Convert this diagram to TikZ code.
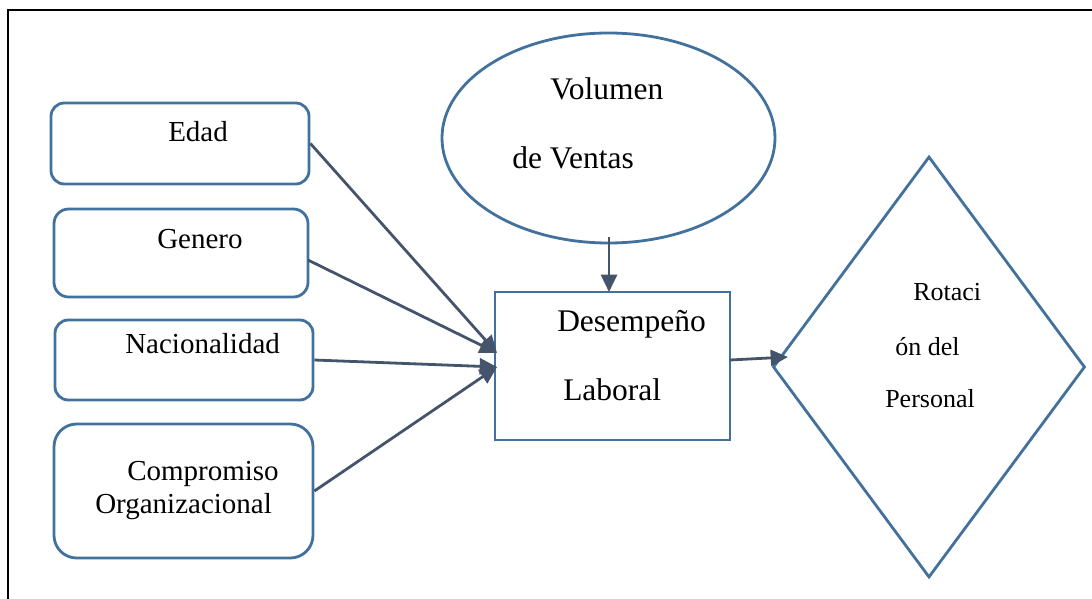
\documentclass[tikz,border=0pt]{standalone}
\usepackage{fontspec}
\setmainfont{Liberation Serif}
\usetikzlibrary{arrows.meta,shapes.geometric,fit}
\definecolor{outl}{RGB}{65,113,156}
\definecolor{arr}{RGB}{68,84,106}
\begin{document}
\begin{tikzpicture}[x=0.75pt,y=-0.75pt,
  box/.style={draw=outl,line width=2.1pt,inner sep=0pt,rectangle},
  rbox/.style={box,rounded corners=#1},
  conn/.style={draw=arr,line width=2.1pt,-{Triangle[length=13pt,width=12pt]}},
  lbl/.style={anchor=base west,inner sep=0pt,font=\fontsize{21.75}{26}\selectfont},
  lblbig/.style={anchor=base west,inner sep=0pt,font=\fontsize{23.6}{28}\selectfont},
  lblsmall/.style={anchor=base west,inner sep=0pt,font=\fontsize{19.5}{23}\selectfont}]
\useasboundingbox (0,0) rectangle (1092,599);
\coordinate (bl) at (8,599);
\coordinate (tl) at (8,10);
\coordinate (tr) at (1092,10);
\draw[line width=2.2pt,black] (bl) -- (tl) -- (tr);

% shapes
\node[rbox=10pt,fit={(51,103) (309,184)}] (edad) {};
\node[rbox=11pt,fit={(54,209) (308,297)}] (genero) {};
\node[rbox=10pt,fit={(55,320) (313,400)}] (nac) {};
\node[rbox=17pt,fit={(54,424) (313,558)}] (comp) {};
\node[box,fit={(495,292) (730,440)}] (desemp) {};
\node[draw=outl,line width=2.1pt,ellipse,inner sep=0pt,minimum width=249.75pt,minimum height=157.5pt] (vol) at (608.5,138) {};
\node[draw=outl,line width=2.1pt,diamond,inner sep=0pt,minimum width=234pt,minimum height=315.75pt] (rot) at (929,367) {};

% texts
\node[lbl] (t1) at (168,142) {Edad};
\node[lbl] (t2) at (157,248) {Genero};
\node[lbl] (t3) at (125,353) {Nacionalidad};
\node[lbl] (t4) at (127,480) {Compromiso};
\node[lbl] (t5) at (95,513) {Organizacional};
\node[lblbig] (t6) at (550,100) {Volumen};
\node[lblbig] (t7) at (512,169) {de Ventas};
\node[lblbig] (t8) at (557,331) {Desempeño};
\node[lblbig] (t9) at (563,400) {Laboral};
\node[lblsmall] (t10) at (913,300) {Rotaci};
\node[lblsmall] (t11) at (895,355) {ón del};
\node[lblsmall] (t12) at (885,407) {Personal};

% connector end points
\coordinate (in1) at (497,353);
\coordinate (in2) at (497,367);
\coordinate (gout) at (308,260);
\coordinate (vout) at (609,237);
\coordinate (din) at (609,292);
\coordinate (dout) at (730,360);
\coordinate (rin) at (788,357);

\draw[conn] (edad.east) -- (in1);
\draw[conn] (gout) -- (in1);
\draw[conn] (nac.east) -- (in2);
\draw[conn] (comp.east) -- (in2);
\draw[conn] (vout) -- (din);
\draw[conn] (dout) -- (rin);
\end{tikzpicture}
\end{document}
